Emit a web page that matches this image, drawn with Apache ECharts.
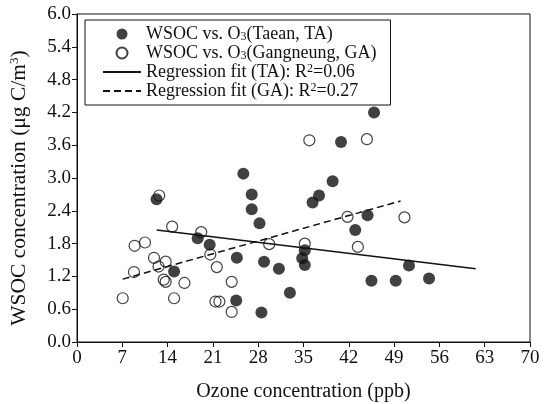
<!DOCTYPE html>
<html>
<head>
<meta charset="utf-8">
<script src="https://cdn.jsdelivr.net/npm/echarts@6/dist/echarts.min.js"></script>
<style>
  html, body { margin: 0; padding: 0; background: #fff; }
  #chart { width: 547px; height: 404px; }
</style>
</head>
<body>
<div id="chart"></div>
<script>
// WSOC (µg C/m³) against ozone (ppb) at two sites
const taeanPoints = [
  [12.3, 2.61], [18.65, 1.90], [20.5, 1.78], [15.0, 1.29], [25.7, 3.08],
  [27.0, 2.70], [27.0, 2.43], [28.2, 2.17], [24.7, 1.54], [28.9, 1.47],
  [31.2, 1.34], [32.9, 0.90], [24.6, 0.76], [28.5, 0.54], [39.5, 2.94],
  [37.4, 2.68], [36.4, 2.55], [44.9, 2.32], [43.0, 2.05], [35.2, 1.68],
  [34.8, 1.53], [35.2, 1.41], [45.9, 4.20], [40.8, 3.66], [51.3, 1.40],
  [45.5, 1.12], [49.25, 1.12], [54.4, 1.16]
];
const gangneungPoints = [
  [12.7, 2.68], [14.7, 2.11], [19.2, 2.01], [8.9, 1.76], [10.5, 1.82],
  [11.9, 1.54], [13.7, 1.47], [12.6, 1.38], [13.4, 1.14], [13.7, 1.10],
  [8.8, 1.28], [16.6, 1.08], [7.06, 0.80], [15.0, 0.80], [21.4, 0.74],
  [22.0, 0.74], [20.6, 1.60], [21.6, 1.37], [23.9, 1.10], [23.9, 0.55],
  [29.7, 1.79], [35.2, 1.80], [43.4, 1.74], [41.8, 2.29], [50.6, 2.28],
  [35.9, 3.69], [44.8, 3.71]
];
// regression lines, start and end points
const fitTaean = [[12.3, 2.05], [61.6, 1.34]];
const fitGangneung = [[7.06, 1.15], [50.0, 2.58]];

const xTicks = { min: 0, max: 70, step: 7 };
const yTicks = { min: 0, max: 6, step: 0.6 };

const legendText = {
  TA: 'WSOC vs. O{sub|3}(Taean, TA)',
  GA: 'WSOC vs. O{sub|3}(Gangneung, GA)',
  fitTA: 'Regression fit (TA): R{sup|2}=0.06',
  fitGA: 'Regression fit (GA): R{sup|2}=0.27'
};

const FONT = '"Liberation Serif", "Times New Roman", serif';
const INK = '#111';
const hiddenMarker = { color: 'rgba(0,0,0,0)', borderWidth: 0, opacity: 0 };

const chart = echarts.init(document.getElementById('chart'), null, { renderer: 'canvas' });
chart.setOption({
  animation: false,
  backgroundColor: '#fff',
  textStyle: { fontFamily: FONT, color: INK },
  grid: {
    left: 77, right: 17, top: 14, bottom: 62,
    containLabel: false, outerBoundsMode: 'none',
    show: true, borderColor: INK, borderWidth: 1, backgroundColor: 'transparent'
  },
  legend: {
    orient: 'vertical',
    left: 85, top: 20,
    padding: [5, 14, 5, 17],
    borderColor: INK, borderWidth: 1,
    itemWidth: 38, itemHeight: 11, itemGap: 1,
    data: [
      { name: 'TA' },
      { name: 'GA' },
      { name: 'fitTA', itemStyle: hiddenMarker },
      { name: 'fitGA', itemStyle: hiddenMarker }
    ],
    formatter: name => legendText[name],
    textStyle: {
      fontFamily: FONT, fontSize: 18, color: INK, lineHeight: 18,
      rich: {
        sub: { fontFamily: FONT, fontSize: 12, lineHeight: 11, verticalAlign: 'bottom', color: INK },
        sup: { fontFamily: FONT, fontSize: 12, lineHeight: 11, verticalAlign: 'top', color: INK }
      }
    }
  },
  xAxis: {
    type: 'value',
    min: xTicks.min, max: xTicks.max, interval: xTicks.step,
    name: 'Ozone concentration (ppb)',
    nameLocation: 'middle', nameGap: 40,
    nameTextStyle: { fontFamily: FONT, fontSize: 20, color: INK },
    axisLine: { show: true, lineStyle: { color: INK, width: 1 } },
    axisTick: { show: true, inside: false, length: 5, lineStyle: { color: INK } },
    axisLabel: { fontFamily: FONT, fontSize: 19, color: INK, margin: 7 },
    splitLine: { show: false }
  },
  yAxis: {
    type: 'value',
    min: yTicks.min, max: yTicks.max, interval: yTicks.step,
    name: 'WSOC concentration (μg C/m{sup|3})',
    nameLocation: 'middle', nameGap: 47,
    nameTextStyle: {
      fontFamily: FONT, fontSize: 21.5, color: INK, lineHeight: 22,
      padding: [0, 20, 0, 0],
      rich: { sup: { fontFamily: FONT, fontSize: 13, lineHeight: 12, verticalAlign: 'top', color: INK } }
    },
    axisLine: { show: true, lineStyle: { color: INK, width: 1 } },
    axisTick: { show: true, inside: false, length: 5, lineStyle: { color: INK } },
    axisLabel: { fontFamily: FONT, fontSize: 19, color: INK, margin: 6, formatter: v => v.toFixed(1) },
    splitLine: { show: false }
  },
  series: [
    {
      name: 'fitTA', type: 'line', data: fitTaean, symbol: 'none', z: 1,
      lineStyle: { color: INK, width: 1.5, type: 'solid' }, itemStyle: { color: INK }
    },
    {
      name: 'fitGA', type: 'line', data: fitGangneung, symbol: 'none', z: 1,
      lineStyle: { color: INK, width: 1.5, type: [7, 4] }, itemStyle: { color: INK }
    },
    {
      name: 'GA', type: 'scatter', data: gangneungPoints, symbol: 'circle', symbolSize: 11, z: 2,
      itemStyle: { color: 'rgba(255,255,255,0)', borderColor: INK, borderWidth: 1.2 }
    },
    {
      name: 'TA', type: 'scatter', data: taeanPoints, symbol: 'circle', symbolSize: 12, z: 3,
      itemStyle: { color: INK }
    }
  ]
});
</script>
</body>
</html>
